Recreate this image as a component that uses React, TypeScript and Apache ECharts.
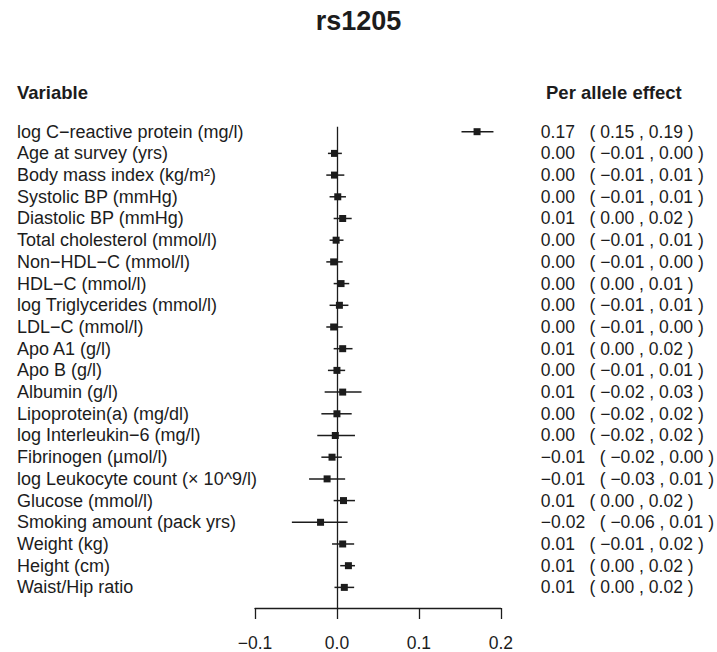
import React, { useEffect, useRef } from "react";
import * as echarts from "echarts";

const variables = [
  "log C−reactive protein (mg/l)",
  "Age at survey (yrs)",
  "Body mass index (kg/m²)",
  "Systolic BP (mmHg)",
  "Diastolic BP (mmHg)",
  "Total cholesterol (mmol/l)",
  "Non−HDL−C (mmol/l)",
  "HDL−C (mmol/l)",
  "log Triglycerides (mmol/l)",
  "LDL−C (mmol/l)",
  "Apo A1 (g/l)",
  "Apo B (g/l)",
  "Albumin (g/l)",
  "Lipoprotein(a) (mg/dl)",
  "log Interleukin−6 (mg/l)",
  "Fibrinogen (µmol/l)",
  "log Leukocyte count (× 10^9/l)",
  "Glucose (mmol/l)",
  "Smoking amount (pack yrs)",
  "Weight (kg)",
  "Height (cm)",
  "Waist/Hip ratio",
];

// plotted point estimates and confidence limits
const estimate = [0.171, -0.003, -0.003, 0.001, 0.007, -0.001, -0.004, 0.005, 0.003, -0.004, 0.007, 0.0, 0.007, 0.0, -0.002, -0.006, -0.012, 0.008, -0.02, 0.007, 0.014, 0.009];
const lower = [0.152, -0.011, -0.013, -0.009, -0.004, -0.009, -0.013, -0.004, -0.009, -0.013, -0.004, -0.011, -0.015, -0.019, -0.024, -0.019, -0.034, -0.004, -0.055, -0.006, 0.004, -0.003];
const upper = [0.191, 0.006, 0.009, 0.011, 0.018, 0.008, 0.007, 0.015, 0.014, 0.007, 0.019, 0.01, 0.03, 0.018, 0.022, 0.006, 0.01, 0.022, 0.013, 0.021, 0.022, 0.021];

// printed per-allele effect column
const shownEst = ["0.17", "0.00", "0.00", "0.00", "0.01", "0.00", "0.00", "0.00", "0.00", "0.00", "0.01", "0.00", "0.01", "0.00", "0.00", "−0.01", "−0.01", "0.01", "−0.02", "0.01", "0.01", "0.01"];
const shownLo = ["0.15", "−0.01", "−0.01", "−0.01", "0.00", "−0.01", "−0.01", "0.00", "−0.01", "−0.01", "0.00", "−0.01", "−0.02", "−0.02", "−0.02", "−0.02", "−0.03", "0.00", "−0.06", "−0.01", "0.00", "0.00"];
const shownHi = ["0.19", "0.00", "0.01", "0.01", "0.02", "0.01", "0.00", "0.01", "0.01", "0.00", "0.02", "0.01", "0.03", "0.02", "0.02", "0.00", "0.01", "0.02", "0.01", "0.02", "0.02", "0.02"];

const xTicks = [-0.1, 0.0, 0.1, 0.2];

const FONT = "'Liberation Sans', Arial, Helvetica, sans-serif";
const INK = "#1c1c1c";

export default function App() {
  const ref = useRef<HTMLDivElement>(null);

  useEffect(() => {
    if (!ref.current) return;
    const chart = echarts.init(ref.current, undefined, { renderer: "svg" });
    const rows = variables.map((_, i) => i + 1);
    const data = variables.map((_, i) => [estimate[i], i + 1, lower[i], upper[i]]);
    const effectText = variables.map(
      (_, i) => `${shownEst[i]}   ( ${shownLo[i]} , ${shownHi[i]} )`
    );

    const yCommon = {
      type: "value" as const,
      inverse: true,
      min: 0.77,
      max: 22.95,
      axisLine: { show: false },
      axisTick: { show: false },
      splitLine: { show: false },
    };

    chart.setOption({
      animation: false,
      backgroundColor: "#ffffff",
      textStyle: { fontFamily: FONT },
      title: [
        {
          text: "rs1205",
          left: "center",
          top: 2,
          textStyle: { fontFamily: FONT, fontSize: 27, fontWeight: "bold", color: INK },
        },
        {
          text: "Variable",
          left: 12,
          top: 78,
          textStyle: { fontFamily: FONT, fontSize: 18.5, fontWeight: "bold", color: INK },
        },
        {
          text: "Per allele effect",
          left: 541,
          top: 78,
          textStyle: { fontFamily: FONT, fontSize: 18.5, fontWeight: "bold", color: INK },
        },
      ],
      grid: { left: 255, right: 208, top: 126.7, bottom: 43.7, containLabel: false },
      xAxis: {
        type: "value",
        min: xTicks[0],
        max: xTicks[xTicks.length - 1],
        interval: 0.1,
        axisLine: { show: true, lineStyle: { color: INK, width: 1.3 } },
        axisTick: { show: true, length: 11, lineStyle: { color: INK, width: 1.3 } },
        axisLabel: {
          margin: 26,
          fontFamily: FONT,
          fontSize: 17.5,
          color: INK,
          formatter: (v: number) => v.toFixed(1).replace("-", "−"),
        },
        splitLine: { show: false },
      },
      yAxis: [
        {
          ...yCommon,
          position: "left",
          axisLabel: {
            customValues: rows,
            align: "left",
            margin: 238,
            fontFamily: FONT,
            fontSize: 18,
            color: INK,
            formatter: (v: number) => variables[Math.round(v) - 1] ?? "",
          },
        },
        {
          ...yCommon,
          position: "right",
          axisLabel: {
            customValues: rows,
            align: "left",
            margin: 40,
            fontFamily: FONT,
            fontSize: 17.5,
            color: INK,
            formatter: (v: number) => effectText[Math.round(v) - 1] ?? "",
          },
        },
      ],
      series: [
        {
          type: "custom",
          xAxisIndex: 0,
          yAxisIndex: 0,
          encode: { x: [0, 2, 3], y: 1 },
          data,
          renderItem: (params: any, api: any) => {
            const row = api.value(1);
            const p0 = api.coord([api.value(2), row]);
            const p1 = api.coord([api.value(3), row]);
            const pc = api.coord([api.value(0), row]);
            const s = 7;
            return {
              type: "group",
              children: [
                {
                  type: "line",
                  shape: { x1: p0[0], y1: p0[1], x2: p1[0], y2: p1[1] },
                  style: { stroke: INK, lineWidth: 1.5 },
                },
                {
                  type: "rect",
                  shape: { x: pc[0] - s / 2, y: pc[1] - s / 2, width: s, height: s },
                  style: { fill: INK },
                },
              ],
            };
          },
          markLine: {
            silent: true,
            symbol: "none",
            label: { show: false },
            lineStyle: { color: INK, width: 1.3, type: "solid" },
            data: [{ xAxis: 0 }],
          },
        },
      ],
    });

    return () => chart.dispose();
  }, []);

  return (
    <div
      ref={ref}
      style={{ position: "fixed", left: 0, top: 0, width: 717, height: 652, background: "#fff" }}
    />
  );
}
